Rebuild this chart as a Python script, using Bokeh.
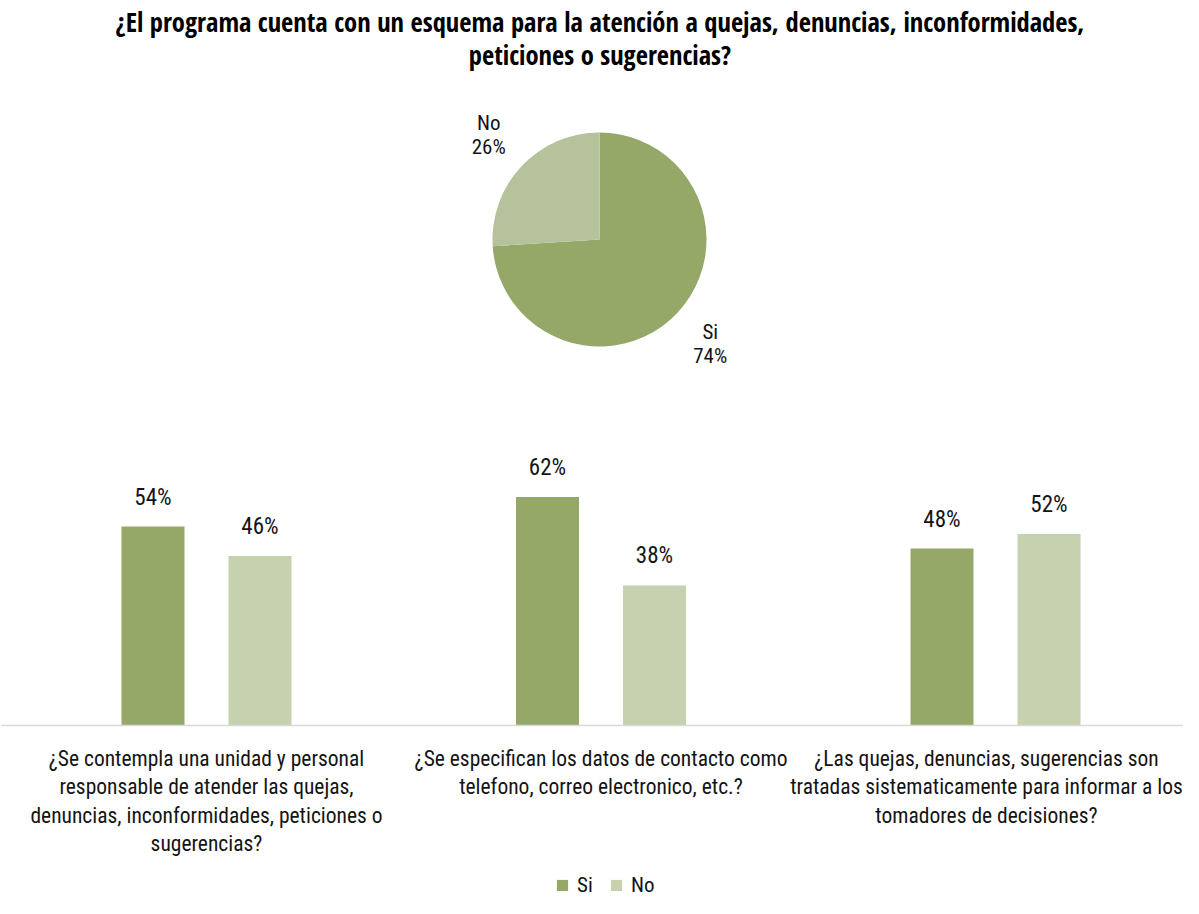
import math
from bokeh.plotting import figure
from bokeh.models import Range1d, ColumnDataSource, Span, Label, Legend, LegendItem
from bokeh.layouts import column
from bokeh.core.properties import value
from bokeh.embed import file_html
from bokeh.resources import INLINE

# ---------------- data ----------------
TITLE = ("¿El programa cuenta con un esquema para la atención a quejas, denuncias, inconformidades,\n"
         "peticiones o sugerencias?")
pie_labels = ["Si", "No"]
pie_values = [0.74, 0.26]

categories = [
    "¿Se contempla una unidad y personal\nresponsable de atender las quejas,\ndenuncias, inconformidades, peticiones o\nsugerencias?",
    "¿Se especifican los datos de contacto como\ntelefono, correo electronico, etc.?",
    "¿Las quejas, denuncias, sugerencias son\ntratadas sistematicamente para informar a los\ntomadores de decisiones?",
]
series = ["Si", "No"]
si_values = [0.54, 0.62, 0.48]
no_values = [0.46, 0.38, 0.52]

# ---------------- style ----------------
FONT = "Roboto Condensed"
TFONT = "Open Sans Condensed"
TXT = "#141414"
C_SI = "#95A867"
C_NO_PIE = "#B5C29C"
C_NO_BAR = "#C6D2AF"

W = 1183
H1 = 428
H2 = 470

# ---------------- pie ----------------
R_PX = 107.0
CX, CY = 599.0, 189.0  # pie centre within frame (px from left, px from bottom)
p1 = figure(width=W, height=H1, output_backend="svg", toolbar_location=None,
            x_range=Range1d(-CX / R_PX, (W - CX) / R_PX),
            y_range=Range1d(-CY / R_PX, (H1 - CY) / R_PX),
            x_axis_location=None, y_axis_location=None, min_border=0)
p1.grid.visible = False
p1.outline_line_color = None

starts, ends, lx, ly, ltxt = [], [], [], [], []
cum = 0.0
for lab, v in zip(pie_labels, pie_values):
    a0 = math.pi / 2 - 2 * math.pi * cum
    a1 = math.pi / 2 - 2 * math.pi * (cum + v)
    starts.append(a1)
    ends.append(a0)
    m = (a0 + a1) / 2
    lx.append(1.42 * math.cos(m))
    ly.append(1.42 * math.sin(m))
    ltxt.append(f"{lab}\n{round(v * 100)}%")
    cum += v

pie_src = ColumnDataSource(dict(start=starts, end=ends, color=[C_SI, C_NO_PIE],
                                lx=lx, ly=ly, txt=ltxt))
p1.wedge(x=0, y=0, radius=1, start_angle="start", end_angle="end",
         fill_color="color", line_color=None, source=pie_src)
p1.text(x="lx", y="ly", text="txt", source=pie_src, text_align="center",
        text_baseline="middle", text_font=value(FONT),
        text_font_size="21px", text_color=TXT, text_line_height=1.0)

title = Label(x=599.5, y=H1 - 3, x_units="screen", y_units="screen", text=TITLE,
              text_align="center", text_baseline="top", text_font=TFONT,
              text_font_style="bold", text_font_size="26.5px", text_color="#000000",
              text_line_height=0.935)
p1.add_layout(title)

# ---------------- bars ----------------
BASE = 297.0      # baseline px from top of frame
SCALE = 368.5     # px per 1.0
UNIT = 394.5      # px between category centres
X0 = 206.0        # px of first category centre
p2 = figure(width=W, height=H2, output_backend="svg", toolbar_location=None,
            x_range=Range1d(-X0 / UNIT, (W - X0) / UNIT),
            y_range=Range1d(-(H2 - BASE) / SCALE, BASE / SCALE),
            x_axis_location=None, y_axis_location=None, min_border=0)
p2.grid.visible = False
p2.outline_line_color = None

idx = list(range(len(categories)))
OFF = 53.5 / UNIT
BW = 63.0 / UNIT
src = ColumnDataSource(dict(x=idx, xs=[i - OFF for i in idx], xn=[i + OFF for i in idx],
                            cat=categories, si=si_values, no=no_values,
                            si_lbl=[f"{round(v * 100)}%" for v in si_values],
                            no_lbl=[f"{round(v * 100)}%" for v in no_values],
                            dx=[0, 0, -9]))  # keep last label inside the canvas
r_si = p2.vbar(x="xs", top="si", bottom=0, width=BW, source=src,
               fill_color=C_SI, line_color=None)
r_no = p2.vbar(x="xn", top="no", bottom=0, width=BW, source=src,
               fill_color=C_NO_BAR, line_color=None)

p2.add_layout(Span(location=0, dimension="width", line_color="#D9D9D9", line_width=1.5))

for xcol, ycol, tcol in (("xs", "si", "si_lbl"), ("xn", "no", "no_lbl")):
    p2.text(x=xcol, y=ycol, text=tcol, source=src, text_align="center",
            text_baseline="bottom", y_offset=-16, text_font=value(FONT),
            text_font_size="23px", text_color=TXT)

p2.text(x="x", y=0, text="cat", source=src, text_align="center",
        text_baseline="top", y_offset=20, x_offset="dx", text_font=value(FONT),
        text_font_size="21.5px", text_color=TXT, text_line_height=1.14)

legend = Legend(items=[LegendItem(label=series[0], renderers=[r_si]),
                       LegendItem(label=series[1], renderers=[r_no])],
                orientation="horizontal", location=(555, 1),
                border_line_color=None, background_fill_alpha=0,
                padding=0, margin=0, spacing=12, glyph_width=14, glyph_height=14,
                label_standoff=8, label_text_font=FONT, label_text_font_size="21px",
                label_text_color=TXT, label_height=18)
p2.add_layout(legend)

layout = column(p1, p2, spacing=0)
open("out.html", "w").write(file_html(layout, INLINE))
